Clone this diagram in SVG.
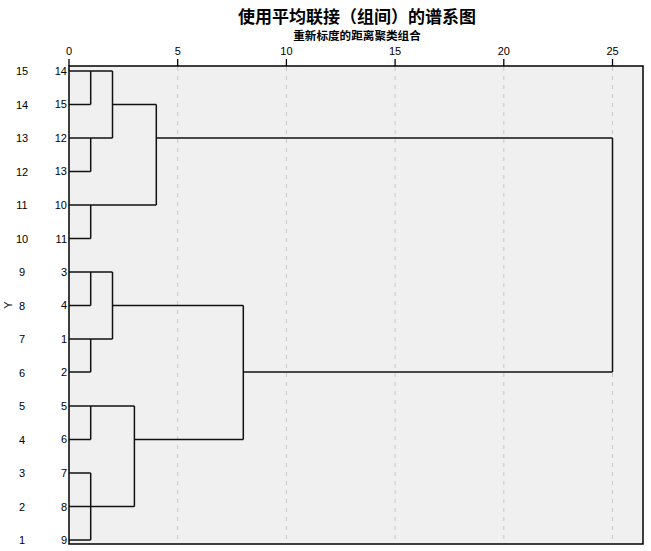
<svg xmlns="http://www.w3.org/2000/svg" width="651" height="551" viewBox="0 0 651 551">
<style>
.t{font-family:"Liberation Sans",Arial,sans-serif;font-size:11px;fill:#000}
.cjk{font-family:"Noto Sans CJK SC","Noto Sans",sans-serif;fill:#000}
.grid{stroke:#c8c8c8;stroke-width:1;stroke-dasharray:4 5}
.tick{stroke:#000;stroke-width:1.3}
.c{stroke:#111;stroke-width:1.5;fill:none}
</style>
<rect width="651" height="551" fill="#fff"/>
<g id="title">
<text class="cjk" x="357" y="23" font-size="17" font-weight="bold" text-anchor="middle">使用平均联接（组间）的谱系图</text>
<text class="cjk" x="357" y="40" font-size="11.6" font-weight="bold" text-anchor="middle">重新标度的距离聚类组合</text>
</g>
<g id="plot">
<rect x="69" y="66" width="574" height="478" fill="#f0f0f0" stroke="#000" stroke-width="1.5"/>
<line class="grid" x1="177.7" y1="67" x2="177.7" y2="543"/>
<line class="grid" x1="286.4" y1="67" x2="286.4" y2="543"/>
<line class="grid" x1="395.1" y1="67" x2="395.1" y2="543"/>
<line class="grid" x1="503.8" y1="67" x2="503.8" y2="543"/>
<line class="grid" x1="612.5" y1="67" x2="612.5" y2="543"/>
</g>
<g id="axis">
<line class="tick" x1="69" y1="59" x2="69" y2="66"/>
<line class="tick" x1="177.7" y1="59" x2="177.7" y2="66"/>
<line class="tick" x1="286.4" y1="59" x2="286.4" y2="66"/>
<line class="tick" x1="395.1" y1="59" x2="395.1" y2="66"/>
<line class="tick" x1="503.8" y1="59" x2="503.8" y2="66"/>
<line class="tick" x1="612.5" y1="59" x2="612.5" y2="66"/>
<text class="t" x="69" y="55" text-anchor="middle">0</text>
<text class="t" x="177.7" y="55" text-anchor="middle">5</text>
<text class="t" x="286.4" y="55" text-anchor="middle">10</text>
<text class="t" x="395.1" y="55" text-anchor="middle">15</text>
<text class="t" x="503.8" y="55" text-anchor="middle">20</text>
<text class="t" x="612.5" y="55" text-anchor="middle">25</text>
</g>
<g id="ylabels" class="t" text-anchor="middle">
<text x="22" y="75">15</text>
<text x="22" y="109">14</text>
<text x="22" y="142">13</text>
<text x="22" y="176">12</text>
<text x="22" y="209">11</text>
<text x="22" y="243">10</text>
<text x="22" y="276">9</text>
<text x="22" y="310">8</text>
<text x="22" y="343">7</text>
<text x="22" y="377">6</text>
<text x="22" y="410">5</text>
<text x="22" y="444">4</text>
<text x="22" y="477">3</text>
<text x="22" y="511">2</text>
<text x="22" y="544">1</text>
<text x="0" y="0" transform="translate(12 305) rotate(-90)">Y</text>
</g>
<g id="leaves" class="t" text-anchor="end">
<text x="67" y="75">14</text>
<text x="67" y="108">15</text>
<text x="67" y="142">12</text>
<text x="67" y="175">13</text>
<text x="67" y="209">10</text>
<text x="67" y="243">11</text>
<text x="67" y="276">3</text>
<text x="67" y="309">4</text>
<text x="67" y="343">1</text>
<text x="67" y="376">2</text>
<text x="67" y="410">5</text>
<text x="67" y="443">6</text>
<text x="67" y="477">7</text>
<text x="67" y="511">8</text>
<text x="67" y="544">9</text>
</g>
<g id="connectors" class="c">
<path d="M69 71H112.5M90.7 71V104.5M112.5 71V138M69 104.5H90.7M112.5 104.5H156.3M156.3 104.5V205M69 138H112.5M156.3 138H612.5M90.7 138V171.5M69 171.5H90.7M69 205H156.3M90.7 205V238.5M69 238.5H90.7"/>
<path d="M612.5 138V372M243.3 372H612.5"/>
<path d="M69 272H112.5M90.7 272V305.5M112.5 272V339M69 305.5H90.7M112.5 305.5H243.3M243.3 305.5V439.5M69 339H112.5M90.7 339V372M69 372H90.7"/>
<path d="M69 406H134.4M90.7 406V439.5M134.4 406V506.5M69 439.5H90.7M134.4 439.5H243.3M69 473H90.7M90.7 473V540M69 506.5H134.4M69 540H90.7"/>
</g>
</svg>
